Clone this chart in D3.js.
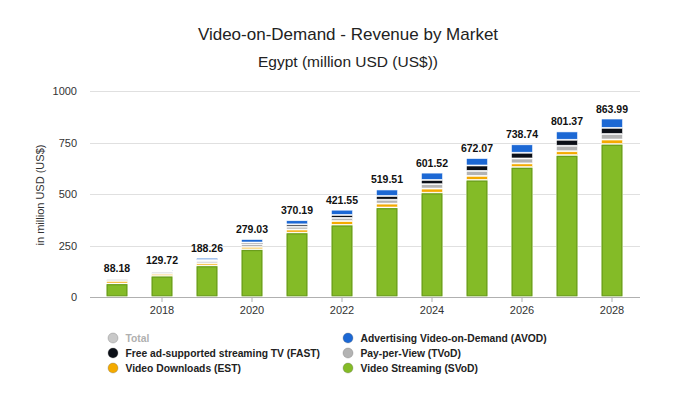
<!DOCTYPE html>
<html><head><meta charset="utf-8">
<script src="https://cdn.jsdelivr.net/npm/d3@7"></script>
<style>body{margin:0;background:#fff;} svg{display:block;font-family:"Liberation Sans",Arial,sans-serif;}</style>
</head><body><svg id="c" width="696" height="394"></svg>
<script>
const years = [2017,2018,2019,2020,2021,2022,2023,2024,2025,2026,2027,2028];
const tickYears = [2018,2020,2022,2024,2026,2028];
const yTicks = [0,250,500,750,1000];
const svod = [63,100,150,229,310,348,432,504,566,628,686,740];
const est  = [12,10,11,12,15,18,19,20,20,18,19,22];
const tvod = [10,10,11,13,14,16,19,21,24,24,27,27];
const fast = [0.5,2,5,8,11,14,18,21,26,28,29,30];
const avod = [2.68,7.72,11.26,17.03,20.19,25.55,31.51,35.52,36.07,40.74,40.37,44.99];
const totals = [88.18,129.72,188.26,279.03,370.19,421.55,519.51,601.52,672.07,738.74,801.37,863.99];
const seriesNames = ["Video Streaming (SVoD)","Video Downloads (EST)","Pay-per-View (TVoD)","Free ad-supported streaming TV (FAST)","Advertising Video-on-Demand (AVOD)"];
const seriesColors = ["#84bb27","#f4aa00","#b3b3b3","#0b0f17","#1c68d4"];

const svg = d3.select("#c");
const data = years.map((y,i)=>({year:y, svod:svod[i], est:est[i], tvod:tvod[i], fast:fast[i], avod:avod[i], total:totals[i]}));
const keys = ["svod","est","tvod","fast","avod"];

const x = d3.scaleBand().domain(years).range([94.5,634.5]).paddingInner(0.53).paddingOuter(0.265);
const y = d3.scaleLinear().domain([0,1000]).range([297,91]);

// gridlines
svg.append("g").selectAll("line").data(yTicks.filter(t=>t>0)).join("line")
  .attr("x1",90).attr("x2",640).attr("y1",d=>Math.round(y(d))+0.5).attr("y2",d=>Math.round(y(d))+0.5)
  .attr("stroke","#e0e0e0").attr("stroke-width",1);

// y axis labels
svg.append("g").selectAll("text").data(yTicks).join("text")
  .attr("x",77).attr("y",d=>y(d)+4).attr("text-anchor","end")
  .attr("font-size",11).attr("fill","#333").text(d=>d);

// x axis
const xAxis = svg.append("g").attr("transform","translate(0,297)")
  .call(d3.axisBottom(x).tickValues(tickYears).tickSize(5).tickSizeOuter(0).tickPadding(4));
xAxis.select(".domain").attr("stroke","#b0b0b0").attr("d","M90,0.5H640");
xAxis.selectAll(".tick line").attr("stroke","#b0b0b0");
xAxis.selectAll(".tick text").attr("font-size",11).attr("fill","#333").attr("font-family","Liberation Sans, Arial, sans-serif");

// stacked bars
const stack = d3.stack().keys(keys)(data);
svg.append("g").selectAll("g").data(stack).join("g")
  .attr("fill",(d,i)=>seriesColors[i])
  .selectAll("rect").data(d=>d).join("rect")
  .attr("x",d=>x(d.data.year)).attr("width",x.bandwidth())
  .attr("y",d=>y(d[1])).attr("height",d=>Math.max(0,y(d[0])-y(d[1])-1))
  .attr("stroke","#fff").attr("stroke-width",0.6);

// green bar darker inner edge
svg.append("g").selectAll("rect").data(data).join("rect")
  .attr("x",d=>x(d.year)+0.75).attr("width",x.bandwidth()-1.5)
  .attr("y",d=>y(d.svod)+0.75).attr("height",d=>y(0)-y(d.svod)-2)
  .attr("fill","none").attr("stroke","#6a9d1c").attr("stroke-width",1.2);

// totals
svg.append("g").selectAll("text").data(data).join("text")
  .attr("x",d=>x(d.year)+x.bandwidth()/2).attr("y",d=>y(d.total)-6.5)
  .attr("text-anchor","middle").attr("font-size",10.5).attr("font-weight","bold").attr("fill","#111")
  .text(d=>d.total.toFixed(2));

// titles
svg.append("text").attr("x",348).attr("y",40).attr("text-anchor","middle").attr("font-size",17).attr("fill","#222").text("Video-on-Demand - Revenue by Market");
svg.append("text").attr("x",348).attr("y",67).attr("text-anchor","middle").attr("font-size",15.5).attr("fill","#222").text("Egypt (million USD (US$))");
svg.append("text").attr("transform","translate(44,195) rotate(-90)").attr("text-anchor","middle").attr("font-size",11).attr("fill","#333").text("in million USD (US$)");

// legend
const legendItems = [
  {name:"Total", color:"#c9c9c9", text:"#b0b0b0", col:0,row:0},
  {name:seriesNames[4], color:seriesColors[4], text:"#222", col:1,row:0},
  {name:seriesNames[3], color:seriesColors[3], text:"#222", col:0,row:1},
  {name:seriesNames[2], color:seriesColors[2], text:"#222", col:1,row:1},
  {name:seriesNames[1], color:seriesColors[1], text:"#222", col:0,row:2},
  {name:seriesNames[0], color:seriesColors[0], text:"#222", col:1,row:2}
];
const lg = svg.append("g").selectAll("g").data(legendItems).join("g")
  .attr("transform",d=>`translate(${d.col?348:113},${338+d.row*15})`);
lg.append("circle").attr("r",5).attr("fill",d=>d.color).attr("stroke","#666").attr("stroke-opacity",0.3);
lg.append("text").attr("x",12.5).attr("y",4).attr("font-size",10.3).attr("font-weight","bold").attr("fill",d=>d.text).text(d=>d.name);
</script></body></html>
